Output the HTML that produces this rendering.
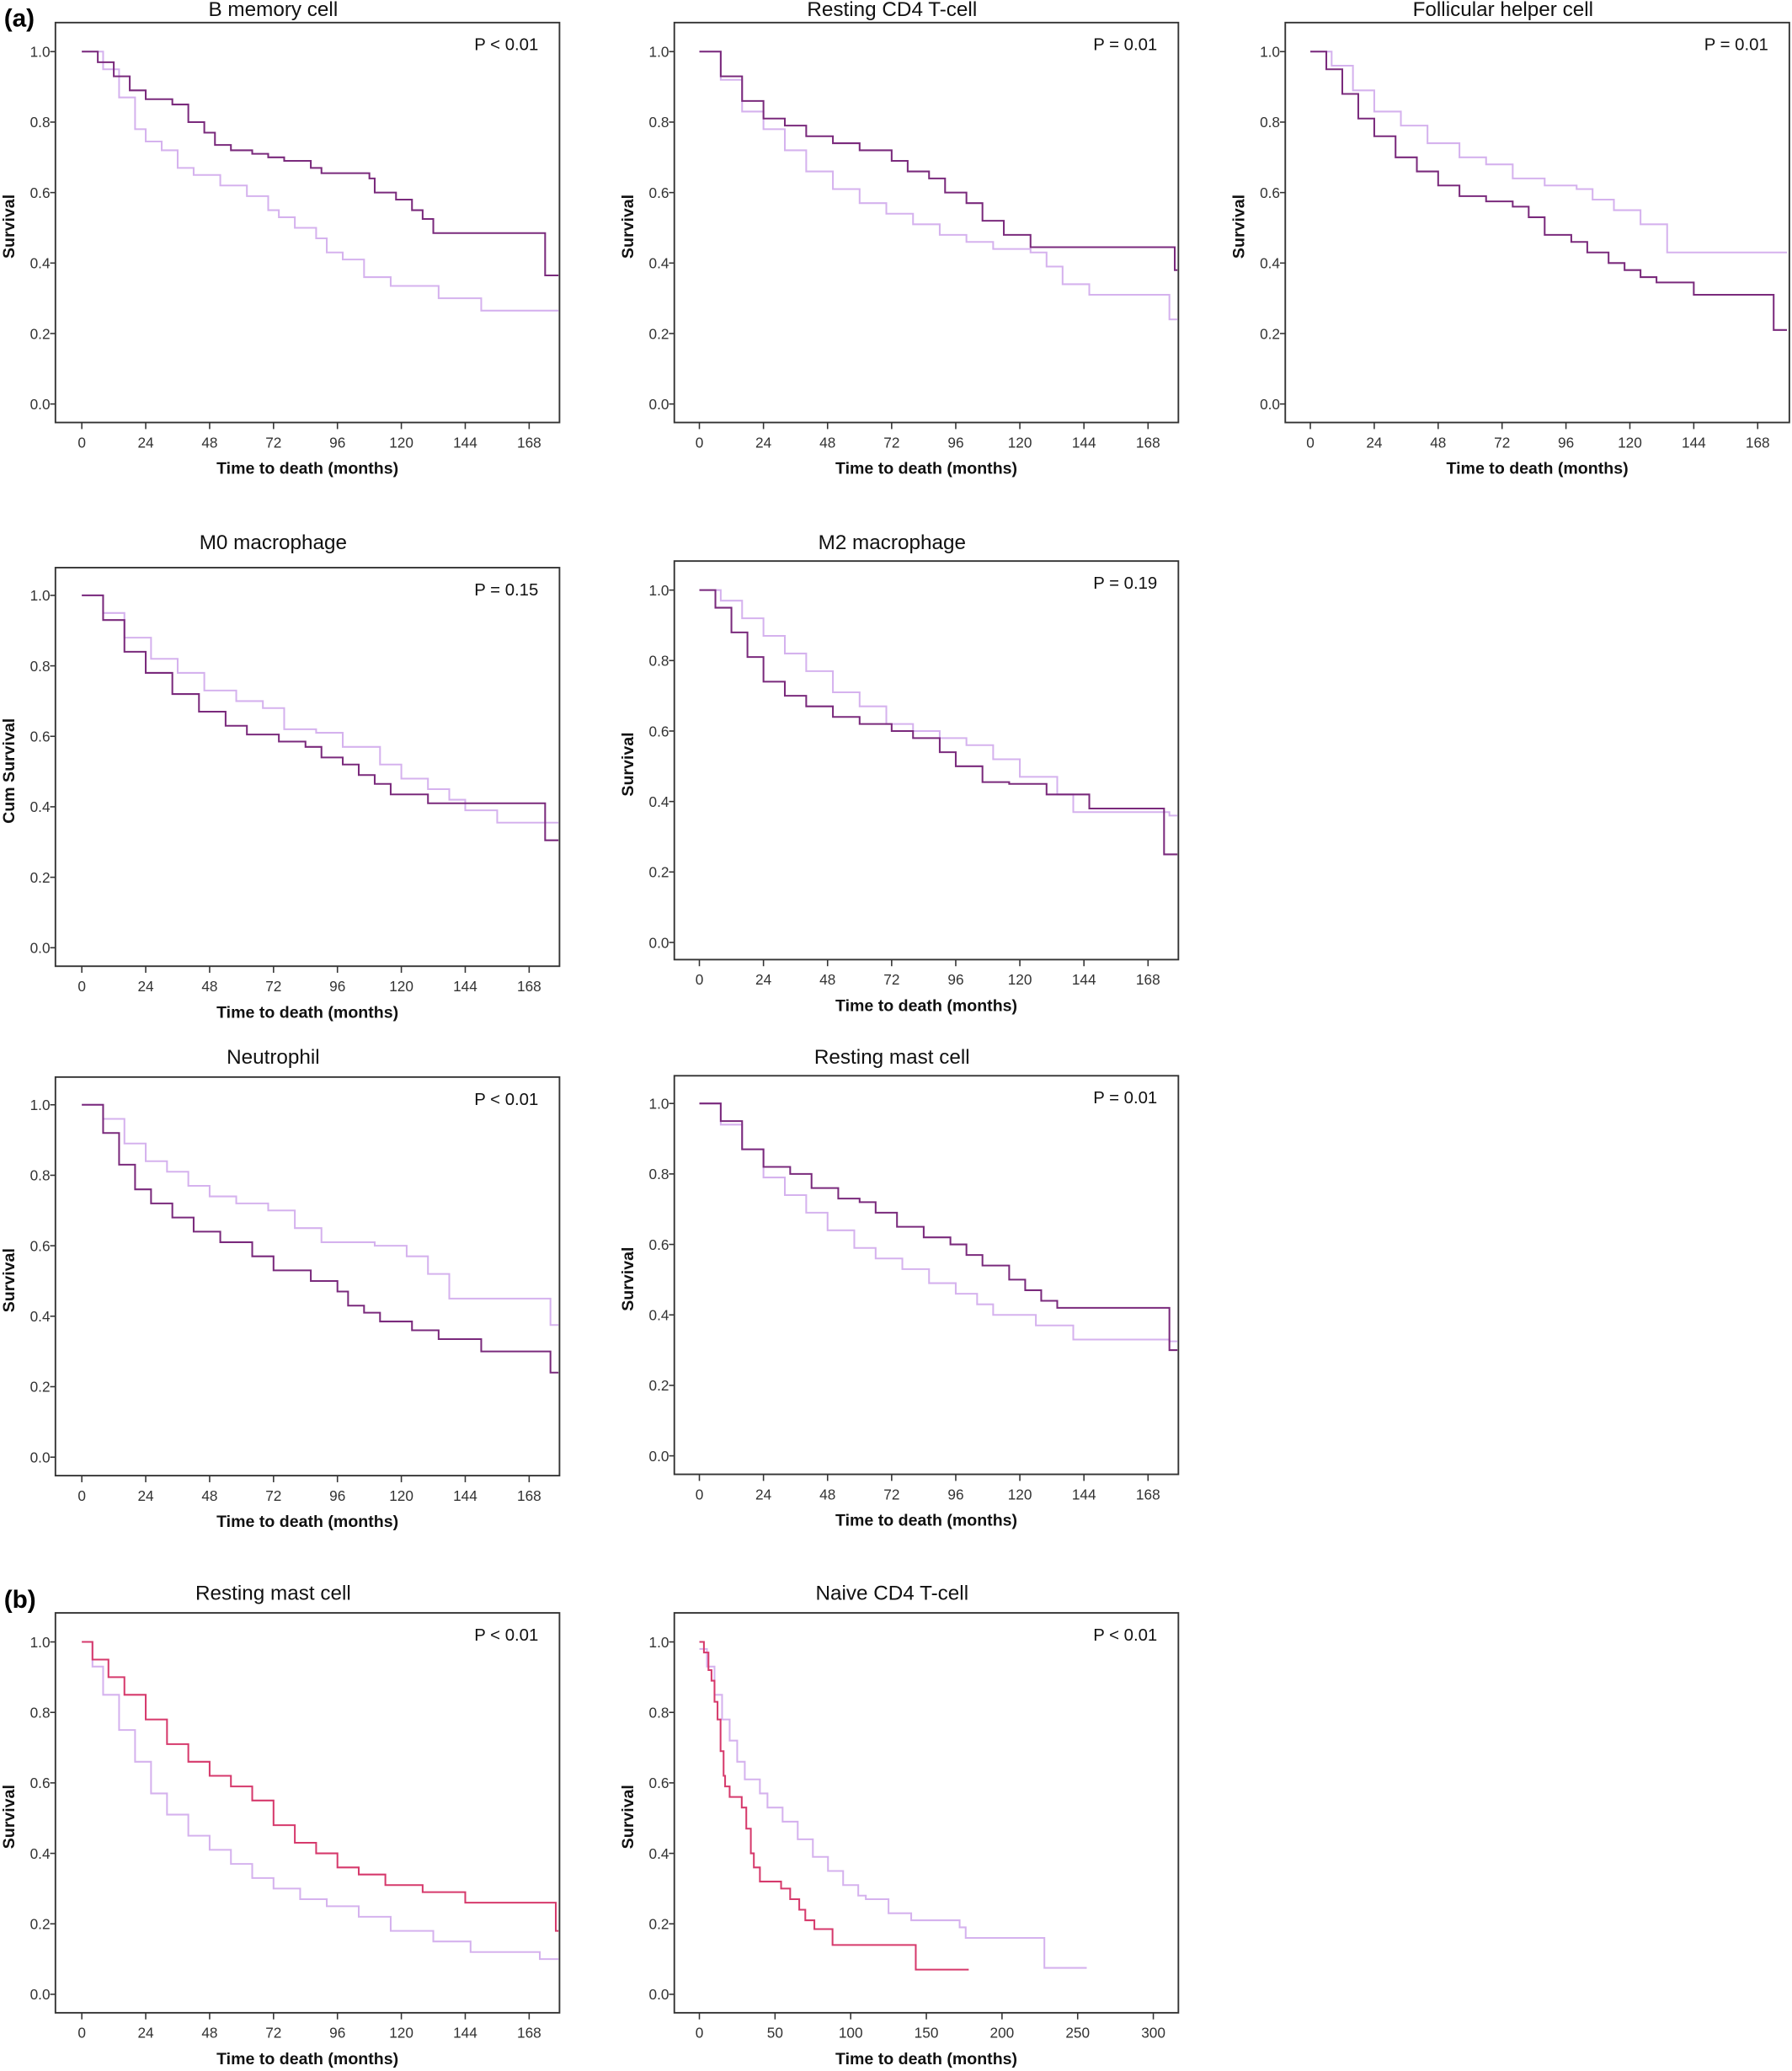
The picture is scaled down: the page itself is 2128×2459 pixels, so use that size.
<!DOCTYPE html>
<html><head><meta charset="utf-8"><style>
html,body{margin:0;padding:0;background:#fff;}
svg{display:block;}
text{font-family:"Liberation Sans",sans-serif;}
</style></head><body>
<svg id="fig" width="2128" height="2459" viewBox="0 0 1358 1569" xmlns="http://www.w3.org/2000/svg">
<text x="3" y="20" font-size="19" font-weight="bold">(a)</text>
<text x="3" y="1218" font-size="19" font-weight="bold">(b)</text>
</svg>
<script>
// ---- data (time in months, survival) ----
const bmemDarkT=[0,6,12,18,24,34,40,46,50,56,64,70,76,86,90,108,110,118,124,128,132,174,179];
const bmemDarkS=[1,0.97,0.93,0.89,0.865,0.85,0.80,0.77,0.735,0.72,0.71,0.70,0.69,0.67,0.655,0.64,0.60,0.58,0.55,0.525,0.485,0.365,0.365];
const bmemLightT=[0,8,14,20,24,30,36,42,52,62,70,74,80,88,92,98,106,116,134,150,179];
const bmemLightS=[1,0.95,0.87,0.78,0.745,0.72,0.67,0.65,0.62,0.59,0.55,0.53,0.50,0.47,0.43,0.41,0.36,0.335,0.30,0.265,0.265];
const cd4DarkT=[0,8,16,24,32,40,50,60,72,78,86,92,100,106,114,124,178,179];
const cd4DarkS=[1,0.93,0.86,0.81,0.79,0.76,0.74,0.72,0.69,0.66,0.64,0.60,0.57,0.52,0.48,0.445,0.38,0.38];
const cd4LightT=[0,8,16,24,32,40,50,60,70,80,90,100,110,124,130,136,146,176,179];
const cd4LightS=[1,0.92,0.83,0.78,0.72,0.66,0.61,0.57,0.54,0.51,0.48,0.46,0.44,0.43,0.39,0.34,0.31,0.24,0.24];
const follDarkT=[0,6,12,18,24,32,40,48,56,66,76,82,88,98,104,112,118,124,130,144,174,179];
const follDarkS=[1,0.95,0.88,0.81,0.76,0.70,0.66,0.62,0.59,0.575,0.56,0.53,0.48,0.46,0.43,0.40,0.38,0.36,0.345,0.31,0.21,0.21];
const follLightT=[0,8,16,24,34,44,56,66,76,88,100,106,114,124,134,179];
const follLightS=[1,0.96,0.89,0.83,0.79,0.74,0.70,0.68,0.64,0.62,0.61,0.58,0.55,0.51,0.43,0.43];
const m0DarkT=[0,8,16,24,34,44,54,62,74,84,90,98,104,110,116,130,174,179];
const m0DarkS=[1,0.93,0.84,0.78,0.72,0.67,0.63,0.605,0.585,0.57,0.54,0.52,0.49,0.465,0.435,0.41,0.305,0.305];
const m0LightT=[0,8,16,26,36,46,58,68,76,88,98,112,120,130,138,144,156,179];
const m0LightS=[1,0.95,0.88,0.82,0.78,0.73,0.70,0.68,0.62,0.61,0.57,0.52,0.48,0.45,0.42,0.39,0.355,0.355];
const m2DarkT=[0,6,12,18,24,32,40,50,60,72,80,90,96,106,116,130,146,174,179];
const m2DarkS=[1,0.95,0.88,0.81,0.74,0.70,0.67,0.64,0.62,0.60,0.58,0.54,0.50,0.455,0.45,0.42,0.38,0.25,0.25];
const m2LightT=[0,8,16,24,32,40,50,60,70,80,90,100,110,120,134,140,176,179];
const m2LightS=[1,0.97,0.92,0.87,0.82,0.77,0.71,0.67,0.62,0.60,0.58,0.56,0.52,0.47,0.42,0.37,0.36,0.36];
const neuDarkT=[0,8,14,20,26,34,42,52,64,72,86,96,100,106,112,124,134,150,176,179];
const neuDarkS=[1,0.92,0.83,0.76,0.72,0.68,0.64,0.61,0.57,0.53,0.50,0.47,0.43,0.41,0.385,0.36,0.335,0.30,0.24,0.24];
const neuLightT=[0,8,16,24,32,40,48,58,70,80,90,110,122,130,138,176,179];
const neuLightS=[1,0.96,0.89,0.84,0.81,0.77,0.74,0.72,0.70,0.65,0.61,0.60,0.57,0.52,0.45,0.375,0.375];
const mastADarkT=[0,8,16,24,34,42,52,60,66,74,84,94,100,106,116,122,128,134,176,179];
const mastADarkS=[1,0.95,0.87,0.82,0.80,0.76,0.73,0.72,0.69,0.65,0.62,0.60,0.57,0.54,0.50,0.47,0.44,0.42,0.30,0.30];
const mastALightT=[0,8,16,24,32,40,48,58,66,76,86,96,104,110,126,140,176,179];
const mastALightS=[1,0.94,0.87,0.79,0.74,0.69,0.64,0.59,0.56,0.53,0.49,0.46,0.43,0.40,0.37,0.33,0.325,0.325];
const mastBRedT=[0,4,10,16,24,32,40,48,56,64,72,80,88,96,104,114,128,144,178,179];
const mastBRedS=[1,0.95,0.90,0.85,0.78,0.71,0.66,0.62,0.59,0.55,0.48,0.43,0.40,0.36,0.34,0.31,0.29,0.26,0.18,0.18];
const mastBLightT=[0,4,8,14,20,26,32,40,48,56,64,72,82,92,104,116,132,146,172,179];
const mastBLightS=[1,0.93,0.85,0.75,0.66,0.57,0.51,0.45,0.41,0.37,0.33,0.30,0.27,0.25,0.22,0.18,0.15,0.12,0.10,0.10];
const naiveRedT=[0,3,6,8,10,12,14,16,17,20,28,31,34,36,40,54,60,66,70,76,88,143,178];
const naiveRedS=[1,0.97,0.92,0.89,0.83,0.78,0.69,0.62,0.59,0.56,0.53,0.47,0.40,0.36,0.32,0.30,0.27,0.24,0.21,0.185,0.14,0.07,0.07];
const naiveLightT=[0,5,10,15,20,25,30,40,45,55,65,75,85,95,105,110,125,140,172,176,228,256];
const naiveLightS=[0.98,0.93,0.85,0.78,0.72,0.66,0.61,0.57,0.53,0.49,0.44,0.39,0.35,0.31,0.28,0.27,0.23,0.21,0.19,0.16,0.075,0.075];
const monthTicks=[0,24,48,72,96,120,144,168];
const naiveTicks=[0,50,100,150,200,250,300];
const survTicks=[0,0.2,0.4,0.6,0.8,1.0];

const DARK="#7a2a7c", LIGHT="#d5b2ee", RED="#d63a6c";
const panels=[
 {name:"b-memory-cell",title:"B memory cell",p:"P < 0.01",ylab:"Survival",ty:12,L:42,R:424,T:17,B:320,x0:62,xs:401,xm:168,y1:39,y0:306,ticks:monthTicks,series:[[bmemLightT,bmemLightS,LIGHT],[bmemDarkT,bmemDarkS,DARK]]},
 {name:"resting-cd4-t-cell",title:"Resting CD4 T-cell",p:"P = 0.01",ylab:"Survival",ty:12,L:511,R:893,T:17,B:320,x0:530,xs:870,xm:168,y1:39,y0:306,ticks:monthTicks,series:[[cd4LightT,cd4LightS,LIGHT],[cd4DarkT,cd4DarkS,DARK]]},
 {name:"follicular-helper-cell",title:"Follicular helper cell",p:"P = 0.01",ylab:"Survival",ty:12,L:974,R:1356,T:17,B:320,x0:993,xs:1332,xm:168,y1:39,y0:306,ticks:monthTicks,series:[[follLightT,follLightS,LIGHT],[follDarkT,follDarkS,DARK]]},
 {name:"m0-macrophage",title:"M0 macrophage",p:"P = 0.15",ylab:"Cum Survival",ty:416,L:42,R:424,T:430,B:732,x0:62,xs:401,xm:168,y1:451,y0:718,ticks:monthTicks,series:[[m0LightT,m0LightS,LIGHT],[m0DarkT,m0DarkS,DARK]]},
 {name:"m2-macrophage",title:"M2 macrophage",p:"P = 0.19",ylab:"Survival",ty:416,L:511,R:893,T:425,B:727,x0:530,xs:870,xm:168,y1:447,y0:714,ticks:monthTicks,series:[[m2LightT,m2LightS,LIGHT],[m2DarkT,m2DarkS,DARK]]},
 {name:"neutrophil",title:"Neutrophil",p:"P < 0.01",ylab:"Survival",ty:806,L:42,R:424,T:816,B:1118,x0:62,xs:401,xm:168,y1:837,y0:1104,ticks:monthTicks,series:[[neuLightT,neuLightS,LIGHT],[neuDarkT,neuDarkS,DARK]]},
 {name:"resting-mast-cell-a",title:"Resting mast cell",p:"P = 0.01",ylab:"Survival",ty:806,L:511,R:893,T:815,B:1117,x0:530,xs:870,xm:168,y1:836,y0:1103,ticks:monthTicks,series:[[mastALightT,mastALightS,LIGHT],[mastADarkT,mastADarkS,DARK]]},
 {name:"resting-mast-cell-b",title:"Resting mast cell",p:"P < 0.01",ylab:"Survival",ty:1212,L:42,R:424,T:1222,B:1525,x0:62,xs:401,xm:168,y1:1244,y0:1511,ticks:monthTicks,series:[[mastBLightT,mastBLightS,LIGHT],[mastBRedT,mastBRedS,RED]]},
 {name:"naive-cd4-t-cell",title:"Naive CD4 T-cell",p:"P < 0.01",ylab:"Survival",ty:1212,L:511,R:893,T:1222,B:1525,x0:530,xs:874,xm:300,y1:1244,y0:1511,ticks:naiveTicks,series:[[naiveLightT,naiveLightS,LIGHT],[naiveRedT,naiveRedS,RED]]}
];
const NS="http://www.w3.org/2000/svg";
const svg=document.getElementById('fig');
function mk(tag,attrs,parent,txt){const e=document.createElementNS(NS,tag);for(const k in attrs)e.setAttribute(k,attrs[k]);if(txt!==undefined)e.textContent=txt;parent.appendChild(e);return e;}
panels.forEach(p=>{
 const g=mk('g',{},svg);
 
 
 const X=t=>p.x0+(t/p.xm)*(p.xs-p.x0);
 const Y=s=>p.y0+s*(p.y1-p.y0);
 const cx=(p.L+p.R)/2;
 const tt=mk('text',{x:cx-26,y:p.ty,'font-size':15.5,'text-anchor':'middle',fill:'#111'},g,p.title);
 
 
 const fr=mk('rect',{x:p.L,y:p.T,width:p.R-p.L,height:p.B-p.T,fill:'none',stroke:'#333','stroke-width':1.2},g);
 
 
 survTicks.forEach(v=>{
  mk('line',{x1:p.L-4,x2:p.L,y1:Y(v),y2:Y(v),stroke:'#333','stroke-width':1},g);
  const t=mk('text',{x:p.L-4,y:Y(v)+4,'font-size':11,'text-anchor':'end',fill:'#333'},g,v.toFixed(1));
  
  
 });
 p.ticks.forEach(v=>{
  mk('line',{x1:X(v),x2:X(v),y1:p.B,y2:p.B+5,stroke:'#333','stroke-width':1},g);
  const t=mk('text',{x:X(v),y:p.B+19,'font-size':11,'text-anchor':'middle',fill:'#333'},g,String(v));
  
  
 });
 const xl=mk('text',{x:(p.L+p.R)/2,y:p.B+39,'font-size':12.5,'font-weight':'bold','text-anchor':'middle',fill:'#111'},g,'Time to death (months)');
 
 
 const yy=(p.T+p.B)/2+(p.B-p.T)*0.01;
 const yl=mk('text',{x:p.L-31,y:yy,'font-size':12.5,'font-weight':'bold','text-anchor':'middle',fill:'#111',transform:`rotate(-90 ${p.L-31} ${yy})`},g,p.ylab);
 
 
 const pv=mk('text',{x:p.R-16,y:p.T+21,'font-size':13,'text-anchor':'end',fill:'#111'},g,p.p);
 
 
 p.series.forEach((s,i)=>{
  const T=s[0],S=s[1];
  let d=`M${X(T[0])},${Y(S[0])}`;
  for(let k=1;k<T.length;k++){d+=` H${X(T[k])} V${Y(S[k])}`;}
  const path=mk('path',{d:d,fill:'none',stroke:s[2],'stroke-width':1.3},g);
  
  
 });
});
</script>
</body></html>
